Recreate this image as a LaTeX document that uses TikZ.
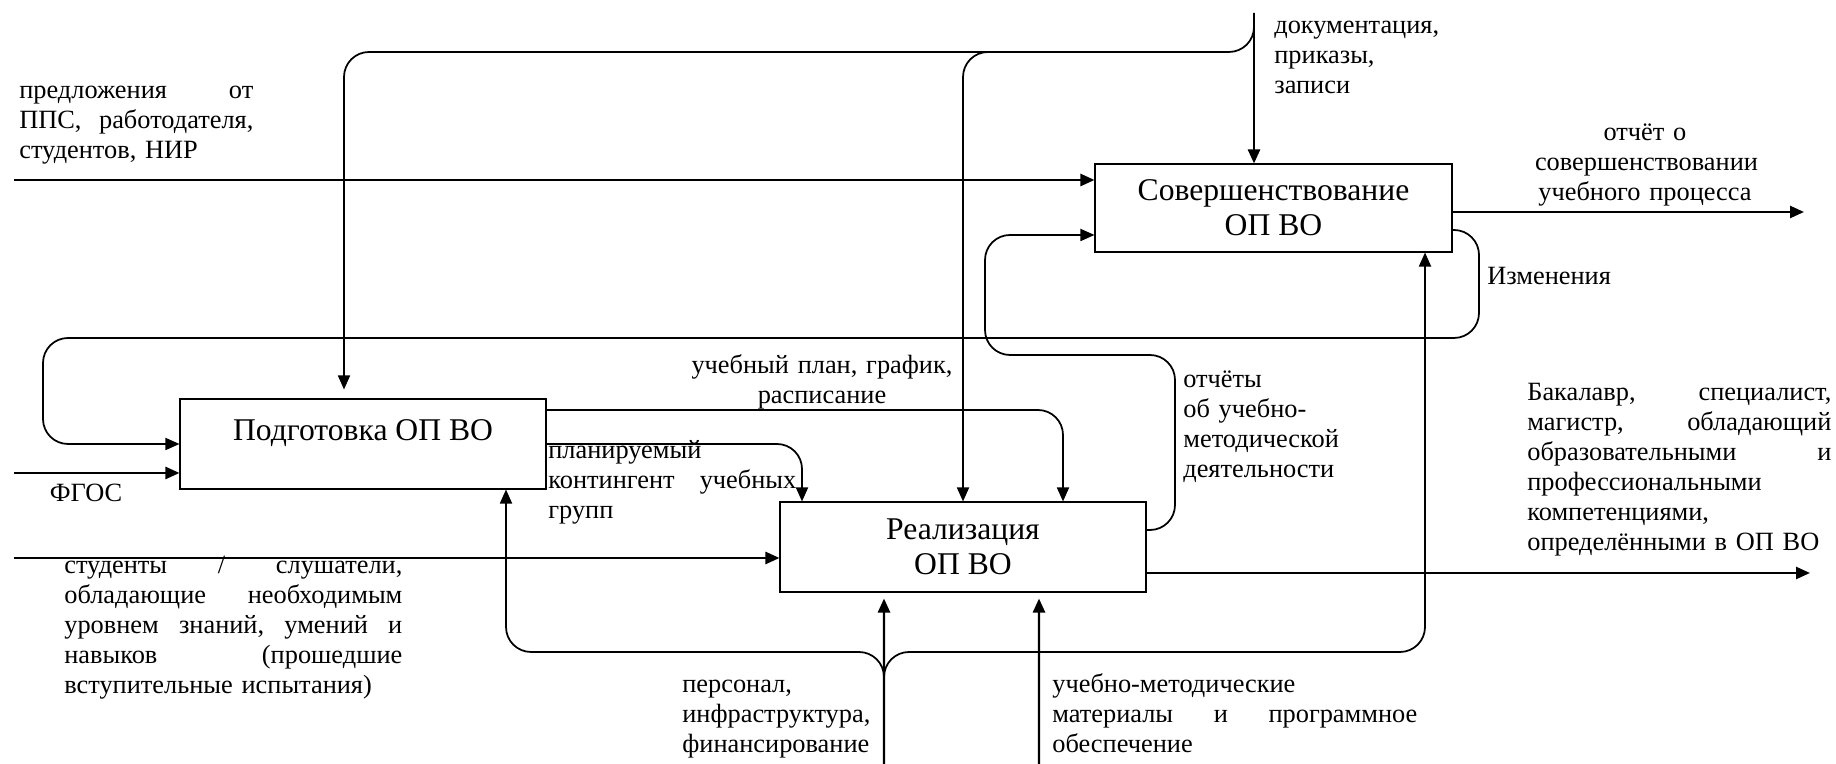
\documentclass[tikz,border=0pt]{standalone}
\usepackage{fontspec}
\setmainfont{Liberation Serif}
\usetikzlibrary{arrows.meta, positioning, calc}

\begin{document}
\begin{tikzpicture}[
    proc/.style={rectangle, draw, line width=0.6pt, minimum width=7.32cm, minimum height=1.8cm, align=center, inner sep=0pt, font=\fontsize{18}{20}\selectfont},
    arr/.style={-{Triangle[length=0.28cm, width=0.24cm]}},
    flow/.style={arr, line width=1.4pt},
    link/.style={arr, line width=1pt, rounded corners=0.5cm},
    lbl/.style={inner sep=0pt, font=\fontsize{15}{17}\selectfont, align=left}
]
    \useasboundingbox (0,0) rectangle (36.72,15.28);

    % блоки
    \node[proc, minimum width=7.14cm, minimum height=1.76cm] (sov) at (25.47, 11.12) {Совершенствование\\ОП ВО};
    \node[proc, text depth=0.56cm] (podg) at (7.26, 6.40) {Подготовка ОП ВО};
    \node[proc] (real) at (19.26, 4.34) {Реализация\\ОП ВО};

    % свободные концы
    \coordinate (in1) at (0.28, 11.68);
    \coordinate (in2) at (0.28, 5.82);
    \coordinate (in3) at (0.28, 4.12);
    \coordinate (ctl) at (25.08, 15.02);
    \coordinate (jtop) at (25.08, 14.24);
    \coordinate (out1) at (36.08, 11.04);
    \coordinate (out2) at (36.20, 3.82);
    \coordinate (mech1) at (17.68, 0);
    \coordinate (mech2) at (20.78, 0);
    \coordinate (bus) at (17.68, 2.24);

    % входы
    \draw[flow] (in1) -- (in1 -| sov.west);
    \draw[flow] (in2) -- (in2 -| podg.west);
    \draw[flow] (in3) -- (in3 -| real.west);

    % выходы
    \draw[flow] (out1 -| sov.east) -- (out1);
    \draw[flow] (out2 -| real.east) -- (out2);

    % управление
    \draw[flow] (ctl) -- (ctl |- sov.north);
    \draw[link] (ctl) -- (jtop) -| ([xshift=-0.38cm, yshift=0.18cm]podg.north);
    \draw[link] ([xshift=-0.5cm]jtop) -| (real.north);
    \draw[link] ([yshift=0.68cm]podg.east) -| ([xshift=2cm]real.north);
    \draw[link] (podg.east) -| ([xshift=-3.22cm]real.north);

    % обратные связи
    \draw[link] ([yshift=-0.44cm]sov.east) -| (29.58, 8.52) -| (0.86, 6.40) -- (podg.west);
    \draw[link] ([yshift=0.34cm]real.east) -| (23.50, 8.18) -| (19.70, 10.58) -- ([yshift=-0.54cm]sov.west);

    % механизмы
    \draw[flow] (mech1) -- ([xshift=-1.58cm, yshift=-0.12cm]real.south);
    \draw[flow] (mech2) -- ([xshift=1.52cm, yshift=-0.12cm]real.south);
    \draw[link] (mech1) -- (bus) -| ([xshift=2.86cm]podg.south);
    \draw[link] (mech1) -- (bus) -| ([xshift=3.03cm]sov.south);

    % подписи
    \node[lbl, text width=4.68cm, anchor=base west] (t_pred) at (0.38, 13.30) {предложения\hfill от\\ППС,\hfill работодателя,\\студентов, НИР};
    \node[lbl, text width=4cm, anchor=base west] (t_doc) at (25.48, 14.60) {документация,\\приказы,\\записи};
    \node[lbl, text width=4.4cm, align=center, anchor=base] (t_otch) at (32.90, 12.46) {отчёт о\\совершенствовании\\учебного процесса};
    \node[lbl, text width=3cm, anchor=base west] (t_izm) at (29.74, 9.58) {Изменения};
    \node[lbl, text width=5.6cm, align=center, anchor=base] (t_plan) at (16.44, 7.80) {учебный план, график,\\расписание};
    \node[lbl, text width=4.96cm, anchor=base west] (t_kont) at (10.96, 6.10) {планируемый\\контингент\hfill учебных\\групп};
    \node[lbl, text width=2cm, align=center, anchor=base] (t_fgos) at (1.72, 5.24) {ФГОС};
    \node[lbl, text width=6.76cm, anchor=base west] (t_stud) at (1.28, 3.80) {студенты\hfill/\hfill слушатели,\\обладающие\hfill необходимым\\уровнем\hfill знаний,\hfill умений\hfill и\\навыков\hfill (прошедшие\\вступительные испытания)};
    \node[lbl, text width=4.2cm, anchor=base west] (t_pers) at (13.64, 1.42) {персонал,\\инфраструктура,\\финансирование};
    \node[lbl, text width=7.30cm, anchor=base west] (t_umk) at (21.04, 1.42) {учебно-методические\\материалы\hfill и\hfill программное\\обеспечение};
    \node[lbl, text width=3.6cm, anchor=base west] (t_rep) at (23.66, 7.52) {отчёты\\об учебно-\\методической\\деятельности};
    \node[lbl, text width=6.08cm, anchor=base west] (t_bak) at (30.54, 7.26) {Бакалавр,\hfill специалист,\\магистр,\hfill обладающий\\образовательными\hfill и\\профессиональными\\компетенциями,\\определёнными в ОП ВО};
\end{tikzpicture}
\end{document}
